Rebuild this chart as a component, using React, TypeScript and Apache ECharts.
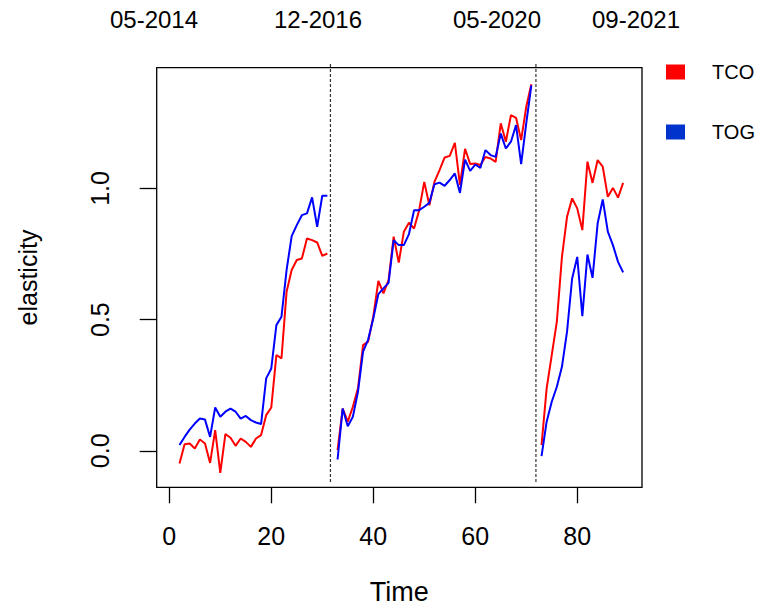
import React, { useEffect, useRef } from "react";
import * as echarts from "echarts";

// ---- data ----
const segStarts = [2, 33, 73];

const tco1 = [-0.048, 0.025, 0.028, 0.009, 0.043, 0.028, -0.046, 0.079, -0.084, 0.064, 0.05, 0.019, 0.047, 0.034, 0.015, 0.047, 0.06, 0.136, 0.165, 0.365, 0.352, 0.606, 0.689, 0.727, 0.733, 0.809, 0.803, 0.794, 0.743, 0.752];
const tog1 = [0.022, 0.053, 0.081, 0.104, 0.123, 0.119, 0.053, 0.165, 0.13, 0.149, 0.161, 0.149, 0.123, 0.133, 0.117, 0.108, 0.102, 0.276, 0.314, 0.479, 0.511, 0.689, 0.818, 0.86, 0.898, 0.905, 0.966, 0.854, 0.972, 0.972];

const tco2 = [0.003, 0.161, 0.111, 0.168, 0.238, 0.403, 0.416, 0.511, 0.648, 0.6, 0.651, 0.816, 0.717, 0.835, 0.869, 0.847, 0.917, 1.025, 0.936, 1.025, 1.07, 1.118, 1.124, 1.174, 1.013, 1.151, 1.093, 1.095, 1.089, 1.12, 1.114, 1.101, 1.248, 1.178, 1.279, 1.269, 1.184, 1.311, 1.397];
const tog2 = [-0.033, 0.161, 0.094, 0.13, 0.225, 0.378, 0.424, 0.504, 0.597, 0.619, 0.64, 0.803, 0.784, 0.784, 0.826, 0.917, 0.917, 0.93, 0.945, 1.016, 1.022, 1.01, 1.032, 1.057, 0.983, 1.11, 1.067, 1.091, 1.078, 1.146, 1.127, 1.12, 1.209, 1.152, 1.178, 1.241, 1.093, 1.248, 1.393];

const tco3 = [0.022, 0.238, 0.365, 0.492, 0.739, 0.892, 0.962, 0.924, 0.841, 1.102, 1.021, 1.108, 1.083, 0.968, 1.002, 0.965, 1.021];
const tog3 = [-0.02, 0.111, 0.187, 0.244, 0.32, 0.454, 0.657, 0.739, 0.513, 0.748, 0.659, 0.866, 0.958, 0.835, 0.784, 0.72, 0.68];

const breakTimes = [31.6, 71.9];
const breakRange = [-0.119, 1.475];

const xTicks = [0, 20, 40, 60, 80];
const yTicks = [0, 0.5, 1.0];
const topLabels = ["05-2014", "12-2016", "05-2020", "09-2021"];

// ---- layout (not data) ----
const topLabelX = [154, 318, 497, 636];
const FONT = "'Liberation Sans', Arial, Helvetica, sans-serif";

function buildLine(segs: number[][]) {
  const out: any[] = [];
  segs.forEach((seg, k) => {
    seg.forEach((v, i) => out.push([segStarts[k] + i, v]));
    if (k < segs.length - 1) out.push([segStarts[k] + seg.length, null]);
  });
  return out;
}

export default function App() {
  const ref = useRef<HTMLDivElement>(null);
  useEffect(() => {
    if (!ref.current) return;
    const chart = echarts.init(ref.current, undefined, { renderer: "svg" });
    const breakSeries = breakTimes.map((t, i) => ({
      name: "break" + i,
      type: "line",
      data: [
        [t, breakRange[0]],
        [t, breakRange[1]],
      ],
      clip: false,
      symbol: "none",
      silent: true,
      lineStyle: { color: "#333", width: 1.2, type: [3, 2] },
      z: 1,
    }));
    const legendText = {
      fontSize: 20,
      fontFamily: FONT,
      color: "#000",
      padding: [14, 0, 0, 22],
    };
    chart.setOption({
      animation: false,
      backgroundColor: "#ffffff",
      textStyle: { fontFamily: FONT },
      grid: {
        left: 156.7,
        top: 67.7,
        width: 485.3,
        height: 419.6,
        show: true,
        borderColor: "#000",
        borderWidth: 1.3,
        backgroundColor: "transparent",
        outerBoundsMode: "none",
        containLabel: false,
      },
      legend: [
        {
          orient: "vertical",
          left: 666,
          top: 62,
          padding: 0,
          itemWidth: 19,
          itemHeight: 15,
          icon: "rect",
          selectedMode: false,
          textStyle: legendText,
          data: [{ name: "TCO", itemStyle: { color: "#ff0000" } }],
        },
        {
          orient: "vertical",
          left: 666,
          top: 122,
          padding: 0,
          itemWidth: 19,
          itemHeight: 15,
          icon: "rect",
          selectedMode: false,
          textStyle: legendText,
          data: [{ name: "TOG", itemStyle: { color: "#0033cc" } }],
        },
      ],
      xAxis: {
        type: "value",
        min: -2.47,
        max: 92.7,
        axisLine: { show: false, onZero: false },
        splitLine: { show: false },
        axisTick: {
          show: true,
          customValues: xTicks,
          length: 16,
          lineStyle: { color: "#000", width: 1.3 },
        },
        axisLabel: {
          customValues: xTicks,
          margin: 36,
          fontSize: 25,
          color: "#000",
          fontFamily: FONT,
        },
        name: "Time",
        nameLocation: "middle",
        nameGap: 91,
        nameTextStyle: { fontSize: 27, lineHeight: 27, color: "#000", fontFamily: FONT },
      },
      yAxis: {
        type: "value",
        min: -0.139,
        max: 1.46,
        axisLine: { show: false, onZero: false },
        splitLine: { show: false },
        axisTick: {
          show: true,
          customValues: yTicks,
          length: 17,
          lineStyle: { color: "#000", width: 1.3 },
        },
        axisLabel: {
          customValues: yTicks,
          rotate: 90,
          margin: 44,
          fontSize: 25,
          color: "#000",
          fontFamily: FONT,
          formatter: (v: number) => v.toFixed(1),
        },
        name: "elasticity",
        nameLocation: "middle",
        nameGap: 116,
        nameTextStyle: { fontSize: 25, color: "#000", fontFamily: FONT },
      },
      graphic: topLabels.map((txt, i) => ({
        type: "text",
        x: topLabelX[i],
        y: 19,
        style: {
          text: txt,
          fontSize: 24,
          fontFamily: FONT,
          fill: "#000",
          align: "center",
          verticalAlign: "middle",
        },
      })),
      series: [
        ...breakSeries,
        {
          name: "TCO",
          type: "line",
          data: buildLine([tco1, tco2, tco3]),
          symbol: "none",
          connectNulls: false,
          lineStyle: { color: "#ff0000", width: 2 },
          itemStyle: { color: "#ff0000" },
          z: 3,
        },
        {
          name: "TOG",
          type: "line",
          data: buildLine([tog1, tog2, tog3]),
          symbol: "none",
          connectNulls: false,
          lineStyle: { color: "#0000ff", width: 2 },
          itemStyle: { color: "#0000ff" },
          z: 4,
        },
      ],
    });
    return () => chart.dispose();
  }, []);
  return (
    <div
      ref={ref}
      style={{ position: "absolute", left: 0, top: 0, width: 757, height: 607 }}
    />
  );
}
